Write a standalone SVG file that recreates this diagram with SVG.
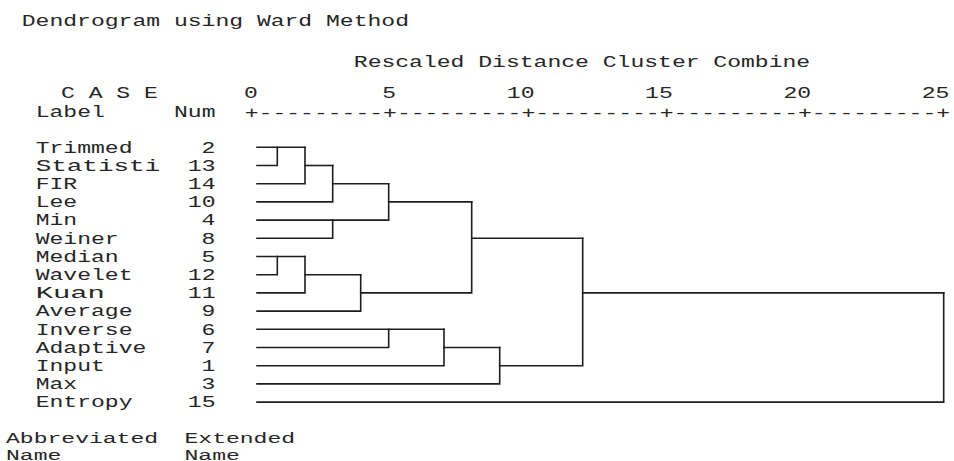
<svg xmlns="http://www.w3.org/2000/svg" width="954" height="461" viewBox="0 0 954 461">
  <style>
    .t { font-family: "Liberation Mono", "DejaVu Sans Mono", monospace; font-size: 16px; fill: #262626; }
    .f { font-size: 14.5px; }
    .lnk { fill: none; stroke: #1e1e1e; stroke-width: 1.6; stroke-linejoin: miter; stroke-linecap: square; }
  </style>
  <rect width="954" height="461" fill="#ffffff"/>

  <!-- headings (monospace grid, 13.83 px per column) -->
  <g id="headings">
    <text class="t" x="21.8" y="25.5" textLength="387.2" lengthAdjust="spacingAndGlyphs">Dendrogram using Ward Method</text>
    <text class="t" x="353.8" y="66.5" textLength="456.4" lengthAdjust="spacingAndGlyphs">Rescaled Distance Cluster Combine</text>
    <text class="t" x="61" y="98" textLength="96.8" lengthAdjust="spacingAndGlyphs">C A S E</text>
    <text class="t" x="35.7" y="116.5" textLength="69.2" lengthAdjust="spacingAndGlyphs">Label</text>
    <text class="t" x="174" y="116.5" textLength="41.5" lengthAdjust="spacingAndGlyphs">Num</text>
  </g>

  <!-- distance scale -->
  <g id="scale">
    <text class="t" x="244" y="98" textLength="13.8" lengthAdjust="spacingAndGlyphs">0</text>
    <text class="t" x="382.3" y="98" textLength="13.8" lengthAdjust="spacingAndGlyphs">5</text>
    <text class="t" x="506.8" y="98" textLength="27.7" lengthAdjust="spacingAndGlyphs">10</text>
    <text class="t" x="645.1" y="98" textLength="27.7" lengthAdjust="spacingAndGlyphs">15</text>
    <text class="t" x="783.4" y="98" textLength="27.7" lengthAdjust="spacingAndGlyphs">20</text>
    <text class="t" x="921.7" y="98" textLength="27.7" lengthAdjust="spacingAndGlyphs">25</text>
    <text class="t" x="244.8" y="117.5" textLength="705.3" lengthAdjust="spacingAndGlyphs">+---------+---------+---------+---------+---------+</text>
  </g>

  <!-- cases: label and case number -->
  <g id="case-2"><text class="t" x="35.7" y="152.5" textLength="96.8" lengthAdjust="spacingAndGlyphs">Trimmed</text><text class="t" x="201.6" y="152.5" textLength="13.8" lengthAdjust="spacingAndGlyphs">2</text></g>
  <g id="case-13"><text class="t" x="35.7" y="170.7" textLength="124.5" lengthAdjust="spacingAndGlyphs">Statisti</text><text class="t" x="187.8" y="170.7" textLength="27.7" lengthAdjust="spacingAndGlyphs">13</text></g>
  <g id="case-14"><text class="t" x="35.7" y="188.9" textLength="41.5" lengthAdjust="spacingAndGlyphs">FIR</text><text class="t" x="187.8" y="188.9" textLength="27.7" lengthAdjust="spacingAndGlyphs">14</text></g>
  <g id="case-10"><text class="t" x="35.7" y="207.1" textLength="41.5" lengthAdjust="spacingAndGlyphs">Lee</text><text class="t" x="187.8" y="207.1" textLength="27.7" lengthAdjust="spacingAndGlyphs">10</text></g>
  <g id="case-4"><text class="t" x="35.7" y="225.3" textLength="41.5" lengthAdjust="spacingAndGlyphs">Min</text><text class="t" x="201.6" y="225.3" textLength="13.8" lengthAdjust="spacingAndGlyphs">4</text></g>
  <g id="case-8"><text class="t" x="35.7" y="243.5" textLength="83" lengthAdjust="spacingAndGlyphs">Weiner</text><text class="t" x="201.6" y="243.5" textLength="13.8" lengthAdjust="spacingAndGlyphs">8</text></g>
  <g id="case-5"><text class="t" x="35.7" y="261.7" textLength="83" lengthAdjust="spacingAndGlyphs">Median</text><text class="t" x="201.6" y="261.7" textLength="13.8" lengthAdjust="spacingAndGlyphs">5</text></g>
  <g id="case-12"><text class="t" x="35.7" y="279.9" textLength="96.8" lengthAdjust="spacingAndGlyphs">Wavelet</text><text class="t" x="187.8" y="279.9" textLength="27.7" lengthAdjust="spacingAndGlyphs">12</text></g>
  <g id="case-11"><text class="t" x="35.7" y="298.1" textLength="69.2" lengthAdjust="spacingAndGlyphs">Kuan</text><text class="t" x="187.8" y="298.1" textLength="27.7" lengthAdjust="spacingAndGlyphs">11</text></g>
  <g id="case-9"><text class="t" x="35.7" y="316.3" textLength="96.8" lengthAdjust="spacingAndGlyphs">Average</text><text class="t" x="201.6" y="316.3" textLength="13.8" lengthAdjust="spacingAndGlyphs">9</text></g>
  <g id="case-6"><text class="t" x="35.7" y="334.5" textLength="96.8" lengthAdjust="spacingAndGlyphs">Inverse</text><text class="t" x="201.6" y="334.5" textLength="13.8" lengthAdjust="spacingAndGlyphs">6</text></g>
  <g id="case-7"><text class="t" x="35.7" y="352.7" textLength="110.6" lengthAdjust="spacingAndGlyphs">Adaptive</text><text class="t" x="201.6" y="352.7" textLength="13.8" lengthAdjust="spacingAndGlyphs">7</text></g>
  <g id="case-1"><text class="t" x="35.7" y="370.9" textLength="69.2" lengthAdjust="spacingAndGlyphs">Input</text><text class="t" x="201.6" y="370.9" textLength="13.8" lengthAdjust="spacingAndGlyphs">1</text></g>
  <g id="case-3"><text class="t" x="35.7" y="389.1" textLength="41.5" lengthAdjust="spacingAndGlyphs">Max</text><text class="t" x="201.6" y="389.1" textLength="13.8" lengthAdjust="spacingAndGlyphs">3</text></g>
  <g id="case-15"><text class="t" x="35.7" y="407.3" textLength="96.8" lengthAdjust="spacingAndGlyphs">Entropy</text><text class="t" x="187.8" y="407.3" textLength="27.7" lengthAdjust="spacingAndGlyphs">15</text></g>

  <!-- tree links: leaf stubs and merge brackets -->
  <g id="links" class="lnk">
    <path class="lnk" d="M257,147.3 H305"/>
    <path class="lnk" d="M257,165.5 H277.3 V147.3"/>
    <path class="lnk" d="M257,183.7 H305 V147.3"/>
    <path class="lnk" d="M305,165.5 H332.7"/>
    <path class="lnk" d="M257,201.9 H332.7 V165.5"/>
    <path class="lnk" d="M332.7,183.7 H388.7"/>
    <path class="lnk" d="M257,220.1 H388.7 V183.7"/>
    <path class="lnk" d="M257,238.3 H332.7 V220.1"/>
    <path class="lnk" d="M388.7,201.9 H471.7"/>
    <path class="lnk" d="M257,256.5 H305"/>
    <path class="lnk" d="M257,274.7 H277.3 V256.5"/>
    <path class="lnk" d="M257,292.9 H305 V256.5"/>
    <path class="lnk" d="M305,274.7 H360.7"/>
    <path class="lnk" d="M257,311.1 H360.7 V274.7"/>
    <path class="lnk" d="M360.7,292.9 H471.7 V201.9"/>
    <path class="lnk" d="M471.7,238.3 H582.7"/>
    <path class="lnk" d="M257,329.3 H444"/>
    <path class="lnk" d="M257,347.5 H388.7 V329.3"/>
    <path class="lnk" d="M257,365.7 H444 V329.3"/>
    <path class="lnk" d="M444,347.5 H499.7"/>
    <path class="lnk" d="M257,383.9 H499.7 V347.5"/>
    <path class="lnk" d="M499.7,365.7 H582.7 V238.3"/>
    <path class="lnk" d="M582.7,292.9 H943.7"/>
    <path class="lnk" d="M257,402.1 H943.7 V292.9"/>
  </g>

  <!-- footer -->
  <g id="footer">
    <text class="t f" x="6" y="443" textLength="152.1" lengthAdjust="spacingAndGlyphs">Abbreviated</text>
    <text class="t f" x="184.5" y="443" textLength="110.6" lengthAdjust="spacingAndGlyphs">Extended</text>
    <text class="t f" x="6" y="459.5" textLength="55.3" lengthAdjust="spacingAndGlyphs">Name</text>
    <text class="t f" x="184.5" y="459.5" textLength="55.3" lengthAdjust="spacingAndGlyphs">Name</text>
  </g>
</svg>
